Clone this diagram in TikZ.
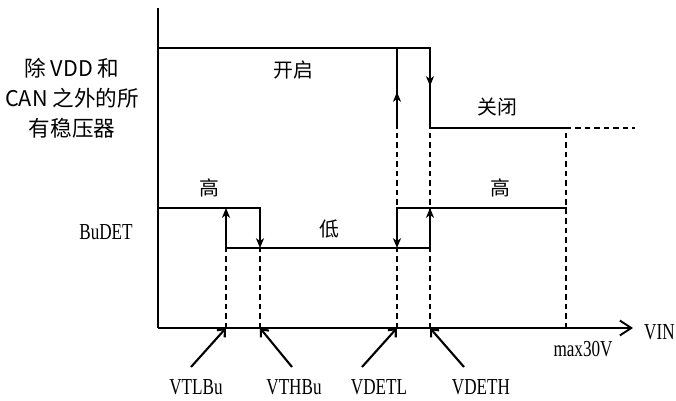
\documentclass[tikz,border=0pt]{standalone}
\usepackage{fontspec}
\setmainfont{Liberation Serif}[FakeStretch=0.75]
\newfontfamily\cjk{Noto Sans CJK SC}
\usetikzlibrary{arrows.meta}

\begin{document}
\begin{tikzpicture}[x=0.02cm, y=-0.02cm,
  sig/.style={line width=1.4pt, line cap=rect},
  axis/.style={line width=1.1pt},
  guide/.style={line width=0.6pt, dash pattern=on 3pt off 2.4pt},
  flip/.style={-{Stealth[length=5.5pt, width=4.5pt, inset=1.5pt]}},
  pointer/.style={line width=1.2pt, -{Straight Barb[length=3.5pt, width=6pt]}},
  word/.style={font=\cjk\fontsize{11.3}{14}\selectfont},
  tag/.style={font=\fontsize{13}{15}\selectfont}]
  \useasboundingbox (0,0) rectangle (676,401);

  % levels and thresholds
  \coordinate (O) at (158,328);
  \coordinate (on) at (158,48);
  \coordinate (off) at (158,128);
  \coordinate (hi) at (158,208);
  \coordinate (lo) at (158,248);
  \coordinate (tl) at (226,328);
  \coordinate (th) at (260,328);
  \coordinate (dl) at (397,328);
  \coordinate (dh) at (430,328);
  \coordinate (vmax) at (566,328);
  \coordinate (ytop) at (158,8);
  \coordinate (xend) at (633,328);

  % guide lines
  \draw[guide] (tl) -- (tl |- lo);
  \draw[guide] (th) -- (th |- lo);
  \draw[guide] (dl) -- (dl |- off);
  \draw[guide] (dh) -- (dh |- off);
  \draw[guide] (vmax) -- (vmax |- off);
  \draw[guide] (vmax |- off) -- (635,128);

  % axes
  \draw[axis] (ytop) -- (O);
  \draw[axis, -{Straight Barb[length=6.5pt, width=8.5pt]}] (O) -- (xend);

  % regulators on/off
  \draw[sig] (on) -- (dh |- on) -- (dh |- off) -- (vmax |- off);
  \draw[sig] (dl |- off) -- (dl |- on);
  \draw[sig, flip] (dl |- off) -- ++(0,-36);
  \draw[sig, flip] (dh |- on) -- ++(0,38);

  % BuDET
  \draw[sig] (hi) -- (th |- hi);
  \draw[sig, flip] (th |- hi) -- (th |- lo);
  \draw[sig, flip] (tl |- lo) -- (tl |- hi);
  \draw[sig] (tl |- lo) -- (dh |- lo);
  \draw[sig, flip] (dh |- lo) -- (dh |- hi);
  \draw[sig, flip] (dl |- hi) -- (dl |- lo);
  \draw[sig] (dl |- hi) -- (vmax |- hi);

  % threshold pointers
  \draw[pointer] (tl) ++(-35,39) -- (tl);
  \draw[pointer] (th) ++(32,39) -- (th);
  \draw[pointer] (dl) ++(-35,39) -- (dl);
  \draw[pointer] (dh) ++(34,39) -- (dh);

  % labels
  \node[font=\cjk\fontsize{12.3}{17}\selectfont, align=center] (reg) at (72,98)
    {除 VDD 和\\CAN 之外的所\\有稳压器};
  \node[tag] (budet) at (106,232) {BuDET};
  \node[word] (kq) at (293,70) {开启};
  \node[word] (gb) at (497,107) {关闭};
  \node[word] (g1) at (209,188) {高};
  \node[word] (g2) at (500,188) {高};
  \node[word] (d) at (329,229) {低};
  \node[tag] (ltl) at (196,387) {VTLBu};
  \node[tag] (lth) at (294,387) {VTHBu};
  \node[tag] (ldl) at (379,387) {VDETL};
  \node[tag] (ldh) at (481,387) {VDETH};
  \node[tag] (lmax) at (583,349) {max30V};
  \node[tag, anchor=east, inner sep=0pt] (vin) at (675,332) {VIN};
\end{tikzpicture}
\end{document}
